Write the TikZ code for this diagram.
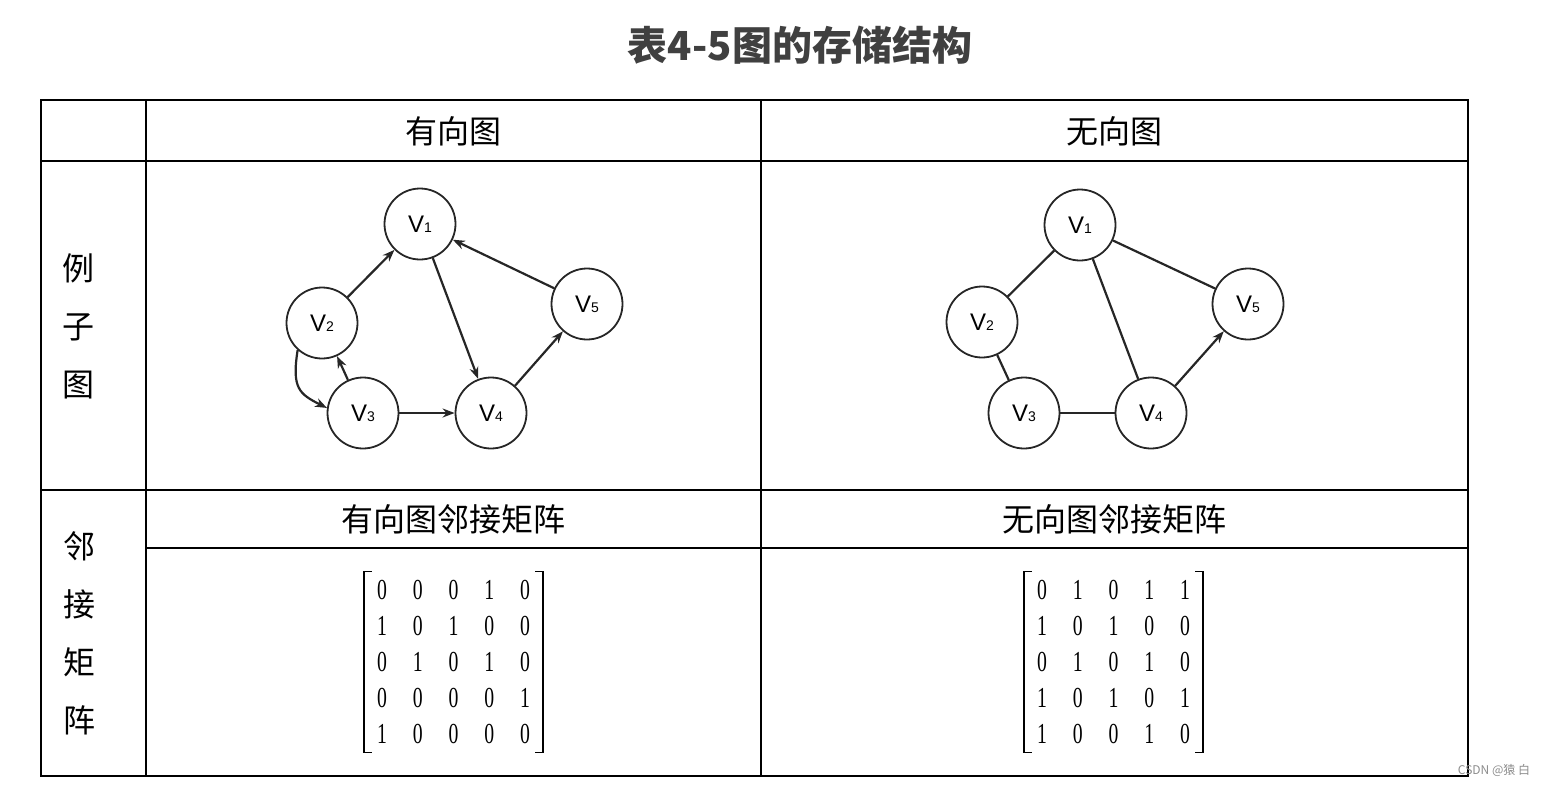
\documentclass[tikz,border=0pt]{standalone}
\usepackage{fontspec}
\usepackage{tikz}
\usetikzlibrary{arrows.meta, automata}
\usetikzlibrary{matrix}
\newfontfamily\cjk{Noto Sans CJK SC}
\newfontfamily\labfont{Liberation Sans}
\newfontfamily\matfont[FakeStretch=0.68]{Liberation Serif}
\definecolor{titlegray}{HTML}{404040}
\newcommand{\vlab}[1]{{\labfont\fontsize{24}{24}\selectfont V\fontsize{14}{14}\selectfont #1}}
\tikzset{
  vert/.style={circle,draw=black!85,line width=1.8pt,minimum size=71pt,inner sep=0pt},
  edg/.style={line width=2.2pt,draw=black!85},
  arr/.style={edg,-{Stealth[length=12pt,width=9pt]}},
  tbl/.style={line width=1.8pt,draw=black},
  head/.style={font=\cjk\fontsize{32}{32}\selectfont},
  side/.style={font=\cjk\fontsize{32}{58}\selectfont,align=center},
  cell/.style={minimum width=35.75pt,minimum height=36pt,inner sep=0pt,
    font=\matfont\fontsize{29}{29}\selectfont}
}

\begin{document}
\begin{tikzpicture}[x=1pt,y=-1pt]
  \useasboundingbox (0,0) rectangle (1546,785);

  % title
  \node[font=\cjk\bfseries\fontsize{40}{40}\selectfont,text=titlegray] (title) at (800,45) {表4-5图的存储结构};

  % table
  \draw[tbl] (41,100) rectangle (1468,776);
  \draw[tbl] (146,100) -- (146,776);
  \draw[tbl] (761,100) -- (761,776);
  \draw[tbl] (41,161) -- (1468,161);
  \draw[tbl] (41,490) -- (1468,490);
  \draw[tbl] (146,548) -- (1468,548);

  \node[head] (h_d) at (453.5,131) {有向图};
  \node[head] (h_u) at (1114.5,131) {无向图};
  \node[head] (m_d) at (453.5,519) {有向图邻接矩阵};
  \node[head] (m_u) at (1114.5,519) {无向图邻接矩阵};
  \node[side] (s_1) at (78,326) {例\\子\\图};
  \node[side] (s_2) at (79,633) {邻\\接\\矩\\阵};

  % directed graph
  \node[vert] (d_1) at (420,224) {\vlab{1}};
  \node[vert] (d_2) at (322,323) {\vlab{2}};
  \node[vert] (d_3) at (363,413) {\vlab{3}};
  \node[vert] (d_4) at (491,413) {\vlab{4}};
  \node[vert] (d_5) at (587,304) {\vlab{5}};
  \path[arr]
    (d_2) edge (d_1)
    (d_1) edge (d_4)
    (d_5) edge (d_1)
    (d_3) edge (d_2)
    (d_3) edge (d_4)
    (d_4) edge (d_5);
  \draw[arr] (d_2.228) .. controls +(-6,38) and +(-28,-14) .. (d_3.172);

  % undirected graph
  \node[vert] (u_1) at (1080,225) {\vlab{1}};
  \node[vert] (u_2) at (982,322) {\vlab{2}};
  \node[vert] (u_3) at (1024,413) {\vlab{3}};
  \node[vert] (u_4) at (1151,413) {\vlab{4}};
  \node[vert] (u_5) at (1248,304) {\vlab{5}};
  \path[edg]
    (u_1) edge (u_2)
    (u_1) edge (u_4)
    (u_1) edge (u_5)
    (u_2) edge (u_3)
    (u_3) edge (u_4);
  \path[arr] (u_4) edge (u_5);

  % adjacency matrices
  \matrix (dmat) [matrix of nodes,nodes={cell},inner sep=0pt] at (453.5,662) {
    0 & 0 & 0 & 1 & 0 \\
    1 & 0 & 1 & 0 & 0 \\
    0 & 1 & 0 & 1 & 0 \\
    0 & 0 & 0 & 0 & 1 \\
    1 & 0 & 0 & 0 & 0 \\
  };
  \matrix (umat) [matrix of nodes,nodes={cell},inner sep=0pt] at (1113.5,662) {
    0 & 1 & 0 & 1 & 1 \\
    1 & 0 & 1 & 0 & 0 \\
    0 & 1 & 0 & 1 & 0 \\
    1 & 0 & 1 & 0 & 1 \\
    1 & 0 & 0 & 1 & 0 \\
  };
  \foreach \m in {dmat,umat} {
    \draw[line width=1.6pt] ([xshift=8pt]\m.north west) -- (\m.north west) -- (\m.south west) -- ([xshift=8pt]\m.south west);
    \draw[line width=1.6pt] ([xshift=-8pt]\m.north east) -- (\m.north east) -- (\m.south east) -- ([xshift=-8pt]\m.south east);
  }

  % watermark
  \node[font=\cjk\fontsize{12}{12}\selectfont,text=black!45] (mark) at (1494,770) {CSDN @猿 白};
\end{tikzpicture}
\end{document}
